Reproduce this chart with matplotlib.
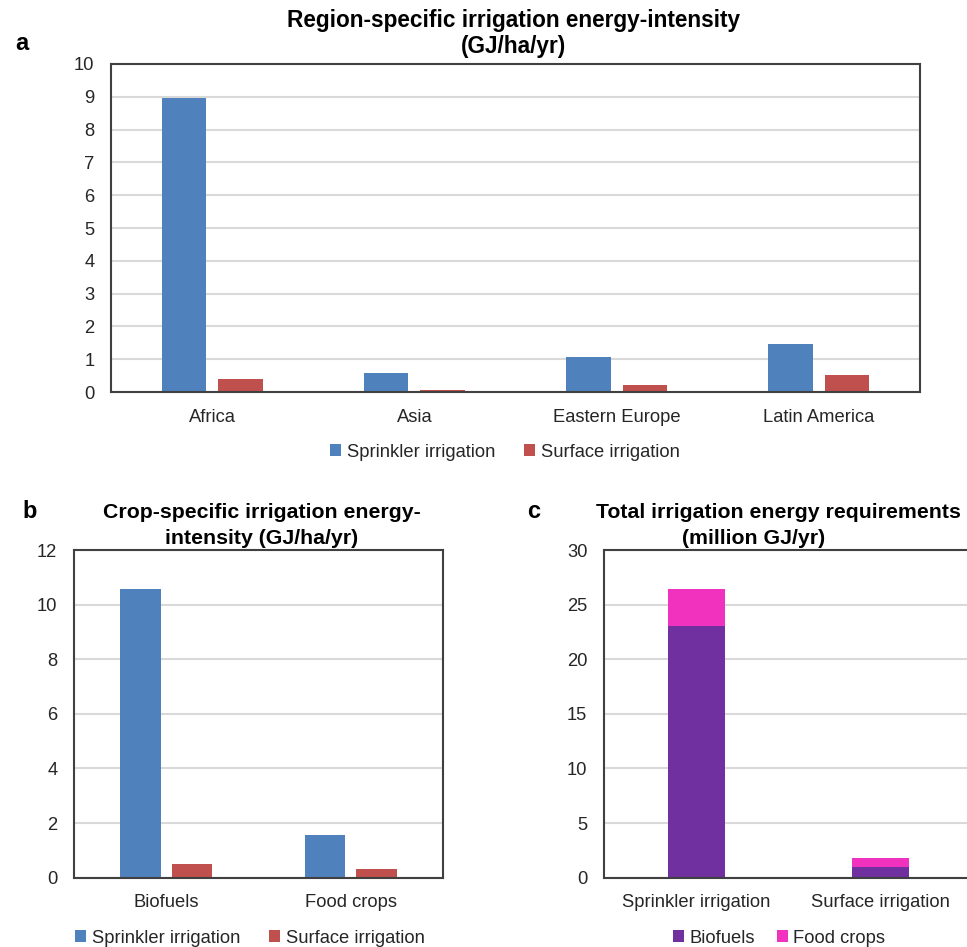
import numpy as np
import matplotlib
matplotlib.use("Agg")
import matplotlib.pyplot as plt

plt.rcParams["font.family"] = ["Liberation Sans", "DejaVu Sans"]

# --- data ---
regions = ["Africa", "Asia", "Eastern Europe", "Latin America"]
region_sprinkler = [8.95, 0.57, 1.06, 1.47]
region_surface = [0.39, 0.06, 0.21, 0.53]

crops = ["Biofuels", "Food crops"]
crop_sprinkler = [10.56, 1.57]
crop_surface = [0.49, 0.32]

methods = ["Sprinkler irrigation", "Surface irrigation"]
total_biofuels = [23.0, 1.0]
total_food = [3.4, 0.78]

BLUE = "#4F81BD"
RED = "#C0504D"
PURPLE = "#7030A0"
PINK = "#F032BE"
GRID = "#D9D9D9"
SPINE = "#404040"
TXT = "#262626"

W, H = 967, 947


def fx(px):
    return px / W


def fy(py):
    return 1 - py / H


def style_axes(ax, ymax, ystep, ncat):
    ax.set_ylim(0, ymax)
    ax.set_yticks(np.arange(0, ymax + 0.1, ystep))
    ax.set_xlim(-0.5, ncat - 0.5)
    ax.set_xticks(range(ncat))
    ax.yaxis.grid(True, color=GRID, linewidth=1.5)
    ax.set_axisbelow(True)
    for s in ax.spines.values():
        s.set_color(SPINE)
        s.set_linewidth(1.5)
    ax.tick_params(axis="both", length=0, labelsize=13.2, colors=TXT)
    ax.tick_params(axis="y", pad=12)
    ax.tick_params(axis="x", pad=12)


fig = plt.figure(figsize=(W / 100, H / 100), dpi=100)

# --- panel a ---
ax_a = fig.add_axes([fx(111), fy(392), fx(920 - 111), (392 - 64) / H])
x = np.arange(len(regions))
bw, off = 0.22, 0.14
ax_a.bar(x - off, region_sprinkler, bw, color=BLUE, label="Sprinkler irrigation")
ax_a.bar(x + off, region_surface, bw, color=RED, label="Surface irrigation")
style_axes(ax_a, 10, 1, len(regions))
ax_a.set_xticklabels(regions)
ax_a.legend(loc="center", bbox_to_anchor=(fx(505), fy(452)), bbox_transform=fig.transFigure,
            ncol=2, frameon=False, fontsize=13.2, handlelength=0.6, handleheight=0.6,
            handletextpad=0.3, columnspacing=1.6, labelcolor=TXT)
fig.text(fx(514), fy(20), "Region-specific irrigation energy-intensity", ha="center", va="center",
         fontsize=16.3, fontweight="bold", color="black")
fig.text(fx(514), fy(46), "(GJ/ha/yr)", ha="center", va="center",
         fontsize=16.3, fontweight="bold", color="black")
fig.text(fx(22), fy(43), "a", ha="center", va="center", fontsize=17, fontweight="bold")

# --- panel b ---
ax_b = fig.add_axes([fx(74), fy(877.7), fx(443 - 74), (877.7 - 550) / H])
x = np.arange(len(crops))
ax_b.bar(x - off, crop_sprinkler, bw, color=BLUE, label="Sprinkler irrigation")
ax_b.bar(x + off, crop_surface, bw, color=RED, label="Surface irrigation")
style_axes(ax_b, 12, 2, len(crops))
ax_b.set_xticklabels(crops)
ax_b.legend(loc="center", bbox_to_anchor=(fx(250), fy(938)), bbox_transform=fig.transFigure,
            ncol=2, frameon=False, fontsize=13.2, handlelength=0.6, handleheight=0.6,
            handletextpad=0.3, columnspacing=1.6, labelcolor=TXT)
fig.text(fx(262), fy(513), "Crop-specific irrigation energy-", ha="center", va="center",
         fontsize=15.3, fontweight="bold")
fig.text(fx(262), fy(538), "intensity (GJ/ha/yr)", ha="center", va="center",
         fontsize=15.3, fontweight="bold")
fig.text(fx(30), fy(512), "b", ha="center", va="center", fontsize=17, fontweight="bold")

# --- panel c (cut off at the right edge in the reference) ---
ax_c = fig.add_axes([fx(604), fy(877.7), fx(972.4 - 604), (877.7 - 550) / H])
x = np.arange(len(methods))
cw = 0.31
ax_c.bar(x, total_biofuels, cw, color=PURPLE, label="Biofuels")
ax_c.bar(x, total_food, cw, bottom=total_biofuels, color=PINK, label="Food crops")
style_axes(ax_c, 30, 5, len(methods))
ax_c.set_xticklabels(methods)
ax_c.legend(loc="center", bbox_to_anchor=(fx(779), fy(938)), bbox_transform=fig.transFigure,
            ncol=2, frameon=False, fontsize=13.2, handlelength=0.6, handleheight=0.6,
            handletextpad=0.3, columnspacing=1.2, labelcolor=TXT)
fig.text(fx(778), fy(513), "Total irrigation energy requirements", ha="center", va="center",
         fontsize=15.3, fontweight="bold")
fig.text(fx(754), fy(538), "(million GJ/yr)", ha="center", va="center",
         fontsize=15.3, fontweight="bold")
fig.text(fx(534), fy(512), "c", ha="center", va="center", fontsize=17, fontweight="bold")

fig.savefig("out.png", dpi=100)
